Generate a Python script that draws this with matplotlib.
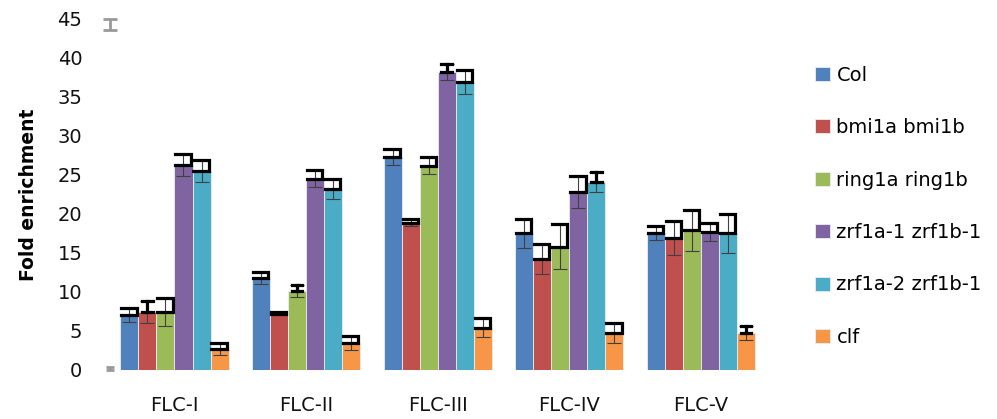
import numpy as np
import matplotlib
matplotlib.use("Agg")
import matplotlib.pyplot as plt

plt.rcParams['font.family'] = ['DejaVu Sans']

regions = ["FLC-I", "FLC-II", "FLC-III", "FLC-IV", "FLC-V"]
genotypes = ["Col", "bmi1a bmi1b", "ring1a ring1b", "zrf1a-1 zrf1b-1",
             "zrf1a-2 zrf1b-1", "clf"]
colors = ["#4F81BD", "#C0504D", "#9BBB59", "#8064A2", "#4BACC6", "#F79646"]

# fold enrichment per genotype, one value per region
col = [7.1, 11.8, 27.3, 17.5, 17.5]
bmi = [7.4, 7.2, 18.9, 14.2, 16.9]
ring = [7.4, 10.1, 26.2, 15.8, 17.9]
zrf1 = [26.3, 24.5, 38.2, 22.8, 17.7]
zrf2 = [25.5, 23.2, 36.9, 24.1, 17.5]
clf = [2.7, 3.5, 5.4, 4.7, 4.7]

col_err = [0.9, 0.8, 1.0, 1.9, 0.9]
bmi_err = [1.4, 0.2, 0.4, 1.9, 2.2]
ring_err = [1.8, 0.8, 1.1, 2.9, 2.6]
zrf1_err = [1.4, 1.1, 1.0, 2.0, 1.2]
zrf2_err = [1.4, 1.3, 1.5, 1.3, 2.5]
clf_err = [0.8, 0.9, 1.2, 1.3, 0.9]

values = [col, bmi, ring, zrf1, zrf2, clf]
errors = [col_err, bmi_err, ring_err, zrf1_err, zrf2_err, clf_err]

# (series, region) pairs whose thick cap looks like "I" instead of "]"
i_caps = [(1, 0), (2, 1), (3, 2), (4, 3), (5, 4)]

fig = plt.figure(figsize=(9.97, 4.19), dpi=100)
ax = fig.add_axes([0.109, 0.117, 0.660, 0.838])

x = np.arange(len(regions))
w = 0.137
for k in range(len(genotypes)):
    pos = x + (k - 2.5) * w
    ax.bar(pos, values[k], w, color=colors[k], edgecolor="#e8eef5",
           linewidth=0.6, label=genotypes[k], zorder=2)
    ax.errorbar(pos, values[k], yerr=errors[k], fmt="none", ecolor="#404040",
                elinewidth=0.8, capsize=5, capthick=0.8, zorder=3)
    for j in range(len(regions)):
        v = values[k][j]
        e = errors[k][j]
        if (k, j) in i_caps:
            ax.plot([pos[j], pos[j]], [v, v + e], color="black", lw=2.3, zorder=4)
            ax.plot([pos[j] - 0.04, pos[j] + 0.04], [v + e, v + e], color="black", lw=2.3, zorder=4)
            ax.plot([pos[j] - 0.04, pos[j] + 0.04], [v, v], color="black", lw=2.3, zorder=4)
        else:
            left = pos[j] - 0.45 * w
            right = pos[j] + 0.4 * w
            ax.plot([left, right, right, left], [v + e, v + e, v, v],
                    color="black", lw=2.3, solid_joinstyle="miter", zorder=4)

# stray grey marks at the left edge of the plot
ax.errorbar([-0.49], [44.3], yerr=[0.7], fmt="none", ecolor="#999999",
            elinewidth=2, capsize=5, capthick=2, clip_on=False)
ax.errorbar([-0.49], [0.0], yerr=[[0.0], [0.4]], fmt="none", ecolor="#999999",
            elinewidth=2, capsize=3, capthick=2, clip_on=False)

ax.set_xlim(-0.5, len(regions) - 0.5)
ax.set_ylim(0, 45)
ax.set_yticks(np.arange(0, 46, 5))
ax.set_xticks(x)
ax.set_xticklabels(regions)
ax.tick_params(axis="both", length=0, labelsize=14, colors="#111111")
ax.tick_params(axis="y", pad=19)
ax.tick_params(axis="x", pad=19)
for s in ax.spines.values():
    s.set_visible(False)
ax.set_ylabel("Fold enrichment", fontsize=13.5, fontweight="bold", labelpad=14)

fig.legend(loc="upper left", bbox_to_anchor=(0.8, 0.885), frameon=False,
           fontsize=14, handlelength=0.75, handleheight=0.75, handletextpad=0.35,
           labelspacing=1.72)

fig.savefig("out.png", dpi=100)
